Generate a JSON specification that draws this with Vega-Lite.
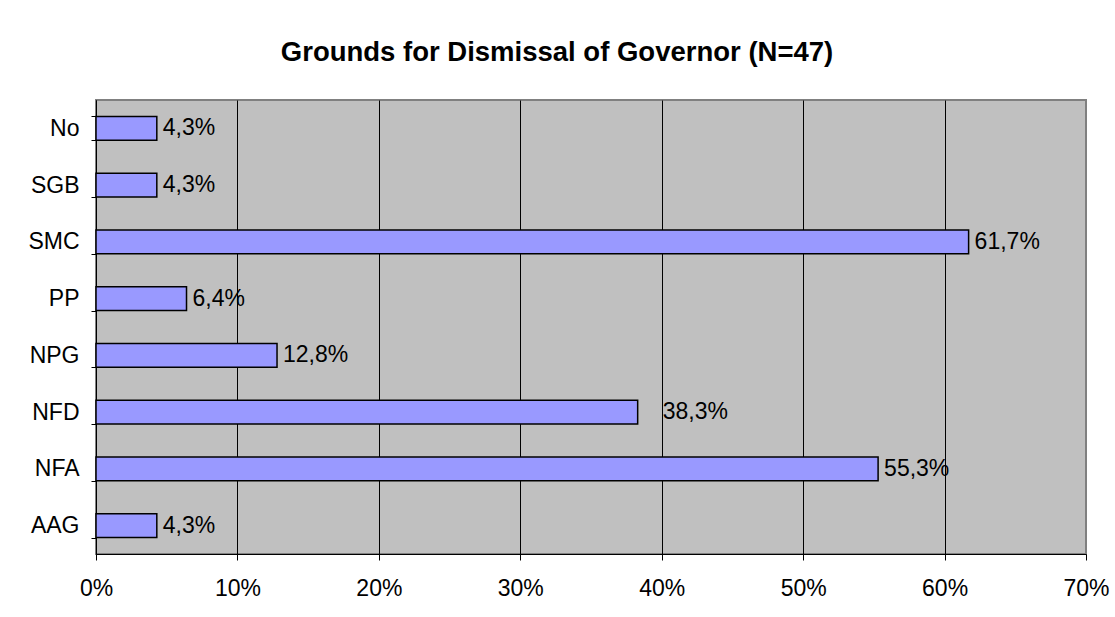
{
  "$schema": "https://vega.github.io/schema/vega-lite/v6.json",
  "width": 990,
  "height": 454,
  "autosize": {"type": "none"},
  "padding": {"left": 96, "top": 100, "right": 29, "bottom": 63},
  "background": "white",
  "title": {
    "text": "Grounds for Dismissal of Governor (N=47)",
    "font": "Liberation Sans",
    "fontSize": 27.5,
    "fontWeight": "bold",
    "color": "black",
    "anchor": "middle",
    "dx": -34,
    "offset": 23
  },
  "config": {
    "locale": {
      "number": {"decimal": ",", "thousands": ".", "grouping": [3], "currency": ["", " €"]}
    },
    "view": {"fill": "#C0C0C0", "stroke": "#808080", "strokeWidth": 2},
    "font": "Liberation Sans"
  },
  "data": {
    "values": [
      {"ground": "No", "share": 0.043},
      {"ground": "SGB", "share": 0.043},
      {"ground": "SMC", "share": 0.617},
      {"ground": "PP", "share": 0.064},
      {"ground": "NPG", "share": 0.128},
      {"ground": "NFD", "share": 0.383},
      {"ground": "NFA", "share": 0.553},
      {"ground": "AAG", "share": 0.043}
    ]
  },
  "encoding": {
    "y": {
      "field": "ground",
      "type": "nominal",
      "sort": null,
      "scale": {"paddingInner": 0.58, "paddingOuter": 0.29},
      "axis": {
        "title": null,
        "tickBand": "extent",
        "domainColor": "black",
        "domainWidth": 1,
        "tickColor": "black",
        "tickSize": 5,
        "labelPadding": 12,
        "labelFont": "Liberation Sans",
        "labelFontSize": 23,
        "labelColor": "black",
        "grid": false
      }
    },
    "x": {
      "field": "share",
      "type": "quantitative",
      "scale": {"domain": [0, 0.7], "nice": false},
      "axis": {
        "title": null,
        "format": ".0%",
        "values": [0, 0.1, 0.2, 0.3, 0.4, 0.5, 0.6, 0.7],
        "labelFlush": false,
        "labelOverlap": false,
        "domainColor": "black",
        "domainWidth": 1,
        "tickColor": "black",
        "tickSize": 6,
        "labelPadding": 17,
        "labelFont": "Liberation Sans",
        "labelFontSize": 23,
        "labelColor": "black",
        "grid": true,
        "gridColor": {"condition": {"test": "datum.value >= 0.7", "value": "#808080"}, "value": "black"},
        "gridOpacity": 1,
        "gridWidth": 1
      }
    }
  },
  "layer": [
    {
      "mark": {"type": "bar", "color": "#9999FF", "stroke": "black", "strokeWidth": 1.5}
    },
    {
      "transform": [{"filter": "datum.ground !== 'NFD'"}],
      "mark": {"type": "text", "align": "left", "baseline": "middle", "dx": 6, "fontSize": 23, "color": "black", "font": "Liberation Sans"},
      "encoding": {"text": {"field": "share", "type": "quantitative", "format": ".1%"}}
    },
    {
      "transform": [{"filter": "datum.ground === 'NFD'"}],
      "mark": {"type": "text", "align": "left", "baseline": "middle", "dx": 25, "fontSize": 23, "color": "black", "font": "Liberation Sans"},
      "encoding": {"text": {"field": "share", "type": "quantitative", "format": ".1%"}}
    }
  ]
}
